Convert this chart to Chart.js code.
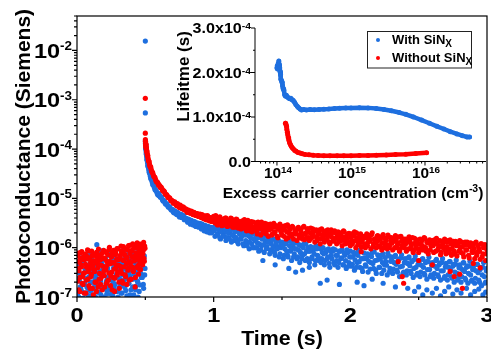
<!DOCTYPE html>
<html><head><meta charset="utf-8">
<script src="https://cdn.jsdelivr.net/npm/chart.js@4.4.1/dist/chart.umd.min.js"></script>
<style>
html,body{margin:0;padding:0;background:#fff;}
#wrap{position:relative;width:491px;height:352px;}
canvas{position:absolute;left:0;top:0;}
</style></head><body>
<div id="wrap"><canvas id="main" width="491" height="352"></canvas><canvas id="inset" width="491" height="352"></canvas></div>
<script>
const BLUE = '#1e6fdf', RED = '#ff0000';
const FONT = '"Liberation Sans", Arial, Helvetica, sans-serif';

// ---------- main chart: photoconductance vs time ----------
const NOISE_T0 = 0, NOISE_T0B = 0.0025, NOISE_DT = 0.005;   // pre-pulse baseline sampling
const noiseRed = [5.2e-7,2.1e-7,7.8e-7,3.4e-7,1.3e-7,6.1e-7,4.5e-7,8.3e-7,2.6e-7,1.8e-7,
5.7e-7,3.1e-7,7.2e-7,1.2e-7,4.0e-7,6.6e-7,2.3e-7,8.6e-7,3.7e-7,1.5e-7,
5.0e-7,2.9e-7,6.9e-7,4.3e-7,1.1e-7,7.5e-7,3.3e-7,5.5e-7,2.0e-7,8.1e-7,
4.8e-7,1.6e-7,6.3e-7,3.0e-7,7.0e-7,2.4e-7,5.9e-7,1.4e-7,4.2e-7,8.8e-7,
2.7e-7,6.0e-7,3.6e-7,1.9e-7,7.6e-7,4.6e-7,2.2e-7,9.2e-7,5.3e-7,1.7e-7,
6.7e-7,3.2e-7,8.0e-7,2.5e-7,4.9e-7,1.3e-7,7.3e-7,3.9e-7,5.8e-7,2.8e-7,
9.5e-7,4.4e-7,1.5e-7,6.4e-7,3.5e-7,8.4e-7,2.1e-7,5.6e-7,1.05e-6,4.1e-7,
7.1e-7,2.6e-7,6.2e-7,1.8e-7,9.0e-7,3.8e-7,5.1e-7,1.12e-6,4.7e-7,2.3e-7,
8.7e-7,6.5e-7,3.4e-7,1.0e-6,5.4e-7,1.6e-7,7.9e-7,4.0e-7,1.25e-6,6.8e-7,
2.9e-7,9.8e-7,5.0e-7,3.6e-7,1.15e-6,7.4e-7,4.5e-7,8.9e-7,6.1e-7,1.08e-6];
const noiseRed2 = [3.8e-7,6.9e-7,1.4e-7,5.1e-7,2.5e-7,8.0e-7,4.1e-7,1.9e-7,6.4e-7,3.0e-7,
1.2e-7,7.4e-7,4.6e-7,2.2e-7,5.9e-7,9.0e-7,3.3e-7,1.7e-7,6.0e-7,4.3e-7,
2.6e-7,8.5e-7,1.5e-7,5.4e-7,3.6e-7,7.0e-7,2.0e-7,4.9e-7,1.3e-7,6.7e-7,
3.9e-7,9.4e-7,2.3e-7,5.6e-7,1.8e-7,4.4e-7,7.7e-7,2.9e-7,6.2e-7,3.4e-7,
1.6e-7,8.3e-7,4.0e-7,5.3e-7,2.1e-7,7.2e-7,3.1e-7,1.02e-6,4.7e-7,2.7e-7,
6.5e-7,1.4e-7,5.0e-7,8.8e-7,3.7e-7,2.4e-7,7.9e-7,4.5e-7,9.6e-7,3.2e-7,
5.7e-7,2.0e-7,6.9e-7,4.2e-7,1.08e-6,3.0e-7,8.1e-7,1.9e-7,5.5e-7,7.3e-7,
2.8e-7,9.3e-7,4.8e-7,6.3e-7,3.5e-7,1.1e-6,2.2e-7,7.6e-7,5.2e-7,8.6e-7,
4.1e-7,1.2e-6,3.3e-7,6.6e-7,9.9e-7,2.5e-7,7.1e-7,5.8e-7,1.05e-6,4.4e-7,
8.2e-7,3.7e-7,1.18e-6,6.0e-7,9.1e-7,4.9e-7,7.5e-7,1.28e-6,5.3e-7,9.7e-7];
const noiseBlue = [2.4e-7,1.1e-7,4.3e-7,0.9e-7,3.0e-7,1.6e-7,6.2e-7,1.3e-7,2.7e-7,0.95e-7,
5.1e-7,1.9e-7,3.6e-7,1.2e-7,2.2e-7,7.0e-7,1.5e-7,3.3e-7,1.05e-7,4.8e-7,
2.0e-7,1.4e-7,5.6e-7,2.9e-7,1.0e-7,3.9e-7,1.7e-7,2.5e-7,4.5e-7,1.15e-6,
1.25e-7,3.1e-7,6.8e-7,1.8e-7,2.3e-7,1.1e-7,5.3e-7,3.5e-7,1.45e-7,2.8e-7,
4.1e-7,0.92e-7,6.0e-7,2.1e-7,1.35e-7,3.8e-7,7.5e-7,1.6e-7,2.6e-7,4.9e-7,
1.15e-7,3.2e-7,5.8e-7,2.0e-7,1.5e-7,4.4e-7,8.2e-7,1.3e-7,2.9e-7,3.7e-7,
1.0e-7,5.0e-7,2.4e-7,6.5e-7,1.7e-7,3.4e-7,1.2e-7,4.6e-7,9.0e-7,2.2e-7,
1.55e-7,5.5e-7,3.0e-7,1.05e-7,4.0e-7,7.2e-7,1.9e-7,2.7e-7,6.1e-7,1.4e-7,
3.6e-7,8.5e-7,2.3e-7,1.1e-7,5.2e-7,4.2e-7,1.65e-7,7.8e-7,3.1e-7,2.0e-7,
9.4e-7,1.3e-7,4.7e-7,6.6e-7,2.5e-7,3.9e-7,1.02e-6,1.8e-7,5.9e-7,2.8e-7];
const noiseBlue2 = [1.3e-7,3.4e-7,1.0e-7,2.1e-7,4.6e-7,1.5e-7,2.8e-7,0.93e-7,5.5e-7,1.8e-7,
3.1e-7,1.2e-7,2.4e-7,6.4e-7,1.6e-7,3.8e-7,1.05e-7,2.6e-7,4.2e-7,1.35e-7,
7.3e-7,2.0e-7,1.1e-7,3.5e-7,5.0e-7,1.45e-7,2.3e-7,0.98e-7,4.0e-7,2.9e-7,
1.7e-7,6.2e-7,1.25e-7,3.2e-7,2.1e-7,8.6e-7,1.5e-7,4.4e-7,2.7e-7,1.0e-7,
3.6e-7,5.7e-7,1.9e-7,1.15e-7,2.5e-7,4.8e-7,1.4e-7,7.0e-7,3.0e-7,1.6e-7,
2.2e-7,5.2e-7,1.05e-7,3.9e-7,6.6e-7,1.8e-7,2.6e-7,4.3e-7,1.3e-7,9.6e-7,
3.3e-7,1.55e-7,5.4e-7,2.0e-7,1.2e-7,4.1e-7,7.8e-7,2.8e-7,1.7e-7,3.7e-7,
6.0e-7,1.35e-7,2.4e-7,8.9e-7,4.5e-7,1.9e-7,3.2e-7,1.1e-7,5.6e-7,2.3e-7,
7.1e-7,1.6e-7,4.0e-7,2.9e-7,1.06e-6,1.4e-7,3.5e-7,6.3e-7,2.1e-7,1.0e-7,
4.9e-7,8.0e-7,1.75e-7,3.0e-7,5.3e-7,2.5e-7,1.1e-6,1.5e-7,6.8e-7,3.8e-7];

const peakBlueT = [0.5, 0.5], peakBlueV = [1.55e-2, 5.4e-4];
const peakRedT = [0.5, 0.5], peakRedV = [1.07e-3, 2.1e-4];

const earlyT = [0.5005,0.501,0.502,0.503,0.504,0.506,0.508,0.510,0.513,0.516,0.520,0.525,0.530,0.536,0.543,0.550,0.558,0.566,0.575,0.585,0.595];
const earlyRed = [1.55e-4,1.41e-4,1.33e-4,1.26e-4,1.2e-4,1.09e-4,9.9e-5,9.2e-5,8.2e-5,7.4e-5,6.5e-5,5.7e-5,5.0e-5,4.4e-5,3.85e-5,3.4e-5,3.0e-5,2.7e-5,2.4e-5,2.16e-5,1.95e-5];
const earlyBlue = [1.45e-4,1.31e-4,1.2e-4,1.1e-4,1.02e-4,8.9e-5,7.8e-5,7.0e-5,6.0e-5,5.3e-5,4.5e-5,3.85e-5,3.33e-5,2.86e-5,2.45e-5,2.14e-5,1.87e-5,1.66e-5,1.47e-5,1.3e-5,1.17e-5];
const earlyT2 = [0.5015,0.5025,0.5035,0.505,0.507,0.509,0.5115,0.5145,0.518,0.5225,0.5275,0.533,0.5395,0.5465,0.554,0.562,0.5705,0.58,0.59,0.5975];
const earlyRed2 = [1.42e-4,1.26e-4,1.25e-4,1.1e-4,1.06e-4,9.2e-5,8.9e-5,7.6e-5,7.3e-5,5.9e-5,5.6e-5,4.6e-5,4.3e-5,3.55e-5,3.3e-5,2.8e-5,2.65e-5,2.2e-5,2.1e-5,1.85e-5];
const earlyBlue2 = [1.22e-4,1.18e-4,1.03e-4,9.9e-5,8.1e-5,7.6e-5,6.3e-5,5.9e-5,4.7e-5,4.3e-5,3.45e-5,3.2e-5,2.55e-5,2.4e-5,1.92e-5,1.82e-5,1.52e-5,1.43e-5,1.2e-5,1.16e-5];

const LATE_T0 = 0.60, LATE_T0B = 0.605, LATE_DT = 0.01;   // decay tail sampling
const lateRed = [1.88e-5,1.66e-5,1.6e-5,1.42e-5,1.36e-5,1.2e-5,1.14e-5,1.03e-5,1.0e-5,8.9e-6,
8.8e-6,8.0e-6,7.9e-6,7.1e-6,7.4e-6,6.5e-6,6.9e-6,6.2e-6,6.6e-6,5.8e-6,
6.0e-6,5.2e-6,5.6e-6,5.0e-6,5.4e-6,4.7e-6,5.1e-6,4.5e-6,4.9e-6,4.3e-6,
4.8e-6,4.1e-6,4.5e-6,3.9e-6,4.4e-6,3.7e-6,4.2e-6,3.5e-6,4.1e-6,3.6e-6,
4.3e-6,3.2e-6,3.9e-6,2.9e-6,4.1e-6,3.4e-6,2.8e-6,3.8e-6,3.1e-6,4.0e-6,
2.7e-6,3.6e-6,3.0e-6,3.9e-6,2.6e-6,3.3e-6,2.8e-6,3.7e-6,2.5e-6,3.4e-6,
2.4e-6,3.5e-6,2.7e-6,3.1e-6,2.2e-6,3.6e-6,2.6e-6,2.9e-6,2.1e-6,3.3e-6,
2.3e-6,3.2e-6,1.9e-6,2.8e-6,2.5e-6,3.3e-6,2.0e-6,2.7e-6,2.2e-6,3.0e-6,
1.7e-6,2.9e-6,2.4e-6,1.9e-6,3.1e-6,2.1e-6,2.6e-6,1.6e-6,2.8e-6,2.2e-6,
1.8e-6,2.7e-6,2.3e-6,1.5e-6,2.9e-6,2.0e-6,2.4e-6,1.7e-6,2.6e-6,1.9e-6,
2.2e-6,1.4e-6,2.6e-6,1.8e-6,2.1e-6,1.5e-6,2.7e-6,1.9e-6,1.6e-6,2.4e-6,
1.4e-6,2.5e-6,1.8e-6,2.1e-6,1.3e-6,2.3e-6,1.6e-6,2.0e-6,1.2e-6,2.4e-6,
1.7e-6,1.3e-6,2.2e-6,1.5e-6,1.9e-6,1.2e-6,2.3e-6,1.6e-6,1.4e-6,2.0e-6,
1.2e-6,2.1e-6,1.5e-6,1.8e-6,1.1e-6,2.2e-6,1.4e-6,1.7e-6,1.25e-6,1.95e-6,
1.1e-6,1.9e-6,1.35e-6,2.1e-6,1.0e-6,1.6e-6,1.25e-6,1.8e-6,1.05e-6,1.5e-6,
1.7e-6,1.0e-6,1.9e-6,1.3e-6,1.55e-6,9.5e-7,2.0e-6,1.2e-6,1.45e-6,1.0e-6,
1.75e-6,1.1e-6,1.5e-6,9.0e-7,1.85e-6,1.2e-6,1.4e-6,9.5e-7,1.65e-6,1.15e-6,
1.6e-6,9.0e-7,1.35e-6,1.75e-6,1.0e-6,1.25e-6,8.5e-7,1.7e-6,1.1e-6,1.3e-6,
1.5e-6,8.5e-7,1.3e-6,1.65e-6,9.5e-7,1.2e-6,8.0e-7,1.55e-6,1.05e-6,1.4e-6,
8.0e-7,1.5e-6,1.15e-6,9.0e-7,1.6e-6,1.0e-6,1.3e-6,7.5e-7,1.45e-6,1.1e-6,
1.4e-6,8.0e-7,1.2e-6,1.55e-6,9.0e-7,1.1e-6,7.2e-7,1.35e-6,1.0e-6,1.5e-6,
7.5e-7,1.3e-6,9.5e-7,1.45e-6,7.0e-7,1.15e-6,8.5e-7,1.35e-6,6.8e-7,1.2e-6,
1.4e-6,8.0e-7,1.05e-6,6.5e-7,1.3e-6,9.0e-7,1.15e-6,6.2e-7,1.25e-6,8.5e-7,
1.1e-6,6.0e-7,1.3e-6,8.0e-7,9.5e-7,5.8e-7,1.2e-6,7.5e-7,1.05e-6,5.5e-7,9.0e-7];
const lateRed2 = [1.8e-5,1.7e-5,1.48e-5,1.43e-5,1.24e-5,1.2e-5,1.06e-5,1.04e-5,9.3e-6,9.0e-6,
8.1e-6,8.5e-6,7.4e-6,7.8e-6,6.8e-6,7.3e-6,6.3e-6,6.7e-6,5.9e-6,6.1e-6,
5.3e-6,5.8e-6,5.1e-6,5.5e-6,4.8e-6,5.2e-6,4.6e-6,4.9e-6,4.4e-6,4.7e-6,
4.2e-6,4.7e-6,3.9e-6,4.3e-6,3.7e-6,4.5e-6,3.6e-6,4.0e-6,3.4e-6,3.9e-6,
3.6e-6,4.5e-6,3.0e-6,3.5e-6,4.2e-6,3.1e-6,3.7e-6,2.9e-6,4.0e-6,3.3e-6,
3.5e-6,2.8e-6,4.0e-6,3.1e-6,3.4e-6,2.6e-6,3.8e-6,3.0e-6,2.7e-6,3.2e-6,
3.0e-6,2.5e-6,3.7e-6,2.8e-6,2.4e-6,3.2e-6,2.2e-6,3.4e-6,2.6e-6,2.3e-6,
2.7e-6,2.1e-6,3.3e-6,2.4e-6,1.8e-6,2.9e-6,2.3e-6,3.1e-6,1.9e-6,2.6e-6,
2.3e-6,3.0e-6,1.8e-6,2.6e-6,2.0e-6,2.8e-6,1.7e-6,2.4e-6,3.0e-6,2.0e-6,
2.5e-6,1.7e-6,2.8e-6,2.1e-6,1.6e-6,2.5e-6,1.9e-6,2.7e-6,1.5e-6,2.2e-6,
1.9e-6,2.5e-6,1.6e-6,2.3e-6,1.7e-6,2.6e-6,1.45e-6,2.0e-6,2.4e-6,1.6e-6,
2.0e-6,1.55e-6,2.4e-6,1.7e-6,2.2e-6,1.4e-6,1.9e-6,2.3e-6,1.5e-6,1.8e-6,
2.1e-6,1.45e-6,1.8e-6,2.3e-6,1.3e-6,1.7e-6,2.0e-6,1.35e-6,2.2e-6,1.55e-6,
1.8e-6,1.3e-6,2.0e-6,1.4e-6,1.65e-6,2.1e-6,1.2e-6,1.55e-6,1.9e-6,1.3e-6,
1.6e-6,1.2e-6,1.75e-6,1.4e-6,2.0e-6,1.15e-6,1.5e-6,1.9e-6,1.3e-6,1.65e-6,
1.2e-6,1.6e-6,1.1e-6,1.75e-6,1.35e-6,1.85e-6,1.05e-6,1.5e-6,1.25e-6,1.7e-6,
1.4e-6,1.05e-6,1.65e-6,1.25e-6,1.0e-6,1.55e-6,1.15e-6,1.8e-6,1.0e-6,1.4e-6,
1.25e-6,1.55e-6,1.0e-6,1.45e-6,1.15e-6,1.65e-6,9.5e-7,1.35e-6,1.5e-6,1.0e-6,
1.2e-6,1.5e-6,9.5e-7,1.35e-6,1.1e-6,1.6e-6,9.0e-7,1.25e-6,1.45e-6,9.5e-7,
1.2e-6,9.5e-7,1.4e-6,1.05e-6,1.55e-6,8.5e-7,1.25e-6,1.35e-6,9.0e-7,1.2e-6,
1.1e-6,1.45e-6,8.5e-7,1.25e-6,1.0e-6,1.4e-6,8.0e-7,1.15e-6,1.3e-6,9.0e-7,
1.05e-6,1.4e-6,8.0e-7,1.2e-6,9.5e-7,1.35e-6,7.5e-7,1.1e-6,1.25e-6,8.5e-7,
1.0e-6,1.3e-6,7.5e-7,1.15e-6,9.0e-7,1.3e-6,7.0e-7,1.05e-6,1.2e-6,8.0e-7,
9.5e-7,1.25e-6,7.0e-7,1.1e-6,8.5e-7,1.2e-6,6.5e-7,1.0e-6,1.15e-6,7.5e-7];
const lateBlue = [1.25e-5,1.06e-5,1.03e-5,8.9e-6,8.8e-6,7.6e-6,7.5e-6,6.6e-6,6.6e-6,5.8e-6,
5.9e-6,5.1e-6,5.4e-6,4.7e-6,5.0e-6,4.2e-6,4.8e-6,4.1e-6,4.5e-6,3.8e-6,
3.9e-6,3.3e-6,3.7e-6,3.0e-6,3.5e-6,2.9e-6,3.4e-6,2.7e-6,3.2e-6,2.6e-6,
3.1e-6,2.4e-6,2.9e-6,2.2e-6,2.8e-6,2.1e-6,2.7e-6,2.0e-6,2.6e-6,2.3e-6,
2.6e-6,1.7e-6,2.9e-6,1.9e-6,2.3e-6,1.5e-6,2.5e-6,1.8e-6,2.1e-6,1.4e-6,
2.4e-6,1.6e-6,2.0e-6,1.3e-6,2.5e-6,1.7e-6,1.4e-6,2.2e-6,1.2e-6,1.9e-6,
1.5e-6,2.2e-6,1.1e-6,1.8e-6,1.3e-6,2.1e-6,9.5e-7,1.6e-6,1.2e-6,1.9e-6,
1.0e-6,1.7e-6,1.25e-6,8.5e-7,1.9e-6,1.1e-6,1.5e-6,8.0e-7,1.35e-6,1.05e-6,
1.6e-6,7.5e-7,1.2e-6,9.0e-7,1.5e-6,7.0e-7,1.1e-6,1.35e-6,6.5e-7,1.0e-6,
1.3e-6,6.0e-7,9.5e-7,1.2e-6,7.0e-7,1.4e-6,8.5e-7,5.5e-7,1.1e-6,7.5e-7,
1.25e-6,6.0e-7,9.0e-7,5.0e-7,1.1e-6,7.0e-7,1.2e-6,5.5e-7,8.5e-7,1.0e-6,
5.0e-7,1.05e-6,6.5e-7,9.0e-7,4.5e-7,1.1e-6,7.0e-7,5.5e-7,9.5e-7,6.0e-7,
1.0e-6,4.5e-7,8.0e-7,6.0e-7,9.5e-7,4.0e-7,7.0e-7,8.5e-7,5.0e-7,9.0e-7,
5.5e-7,4.0e-7,8.5e-7,6.0e-7,9.0e-7,4.5e-7,7.0e-7,3.8e-7,8.0e-7,5.0e-7,
8.5e-7,4.2e-7,6.5e-7,3.5e-7,7.5e-7,5.0e-7,8.8e-7,4.0e-7,6.0e-7,3.3e-7,
7.8e-7,4.5e-7,6.0e-7,3.2e-7,7.0e-7,5.0e-7,8.0e-7,3.8e-7,5.5e-7,3.0e-7,
7.2e-7,4.0e-7,6.0e-7,3.0e-7,7.5e-7,4.5e-7,5.2e-7,2.8e-7,6.8e-7,3.8e-7,
6.5e-7,3.0e-7,5.0e-7,7.0e-7,3.5e-7,5.5e-7,2.6e-7,6.2e-7,4.2e-7,3.2e-7,
6.0e-7,2.8e-7,4.8e-7,6.5e-7,3.3e-7,5.2e-7,2.5e-7,5.8e-7,4.0e-7,3.0e-7,
5.5e-7,2.6e-7,4.4e-7,6.0e-7,3.0e-7,5.0e-7,2.3e-7,5.2e-7,3.6e-7,2.8e-7,
5.0e-7,2.4e-7,4.2e-7,5.8e-7,2.8e-7,4.5e-7,2.2e-7,5.0e-7,3.4e-7,2.6e-7,
4.8e-7,2.2e-7,4.0e-7,5.2e-7,2.6e-7,4.2e-7,2.0e-7,4.6e-7,3.0e-7,2.4e-7,
4.5e-7,2.0e-7,3.6e-7,5.0e-7,2.4e-7,4.0e-7,1.9e-7,4.2e-7,2.8e-7,2.2e-7,
4.2e-7,1.9e-7,3.4e-7,4.6e-7,2.2e-7,3.6e-7,1.7e-7,4.0e-7,2.6e-7,2.0e-7,3.8e-7];
const lateBlue2 = [1.12e-5,1.08e-5,9.4e-6,9.0e-6,8.0e-6,7.8e-6,6.9e-6,6.8e-6,6.1e-6,5.9e-6,
5.3e-6,5.6e-6,4.9e-6,5.2e-6,4.5e-6,4.7e-6,4.1e-6,4.4e-6,3.7e-6,4.0e-6,
3.5e-6,3.8e-6,3.2e-6,3.6e-6,3.1e-6,3.3e-6,2.8e-6,3.1e-6,2.7e-6,2.9e-6,
2.7e-6,3.0e-6,2.5e-6,2.8e-6,2.3e-6,2.6e-6,2.2e-6,2.5e-6,2.0e-6,2.4e-6,
2.2e-6,2.7e-6,1.8e-6,2.4e-6,1.6e-6,2.1e-6,2.6e-6,1.7e-6,2.2e-6,1.6e-6,
2.0e-6,1.5e-6,2.3e-6,1.8e-6,1.4e-6,2.1e-6,1.6e-6,1.3e-6,2.0e-6,1.5e-6,
1.7e-6,1.2e-6,2.0e-6,1.4e-6,1.1e-6,1.75e-6,1.3e-6,2.0e-6,1.0e-6,1.5e-6,
1.4e-6,1.0e-6,1.6e-6,1.2e-6,9.0e-7,1.5e-6,1.15e-6,1.7e-6,9.5e-7,1.3e-6,
1.3e-6,9.0e-7,1.45e-6,1.05e-6,8.0e-7,1.25e-6,9.5e-7,1.4e-6,7.5e-7,1.15e-6,
1.05e-6,7.0e-7,1.25e-6,8.5e-7,6.5e-7,1.1e-6,9.0e-7,1.3e-6,6.5e-7,9.5e-7,
9.5e-7,6.5e-7,1.15e-6,8.0e-7,6.0e-7,1.0e-6,7.5e-7,1.2e-6,6.0e-7,8.5e-7,
8.5e-7,6.0e-7,1.0e-6,7.5e-7,5.5e-7,9.5e-7,6.5e-7,1.05e-6,5.0e-7,8.0e-7,
7.5e-7,5.5e-7,9.0e-7,6.5e-7,4.8e-7,8.5e-7,6.0e-7,9.5e-7,4.5e-7,7.0e-7,
7.0e-7,5.0e-7,8.5e-7,6.2e-7,4.5e-7,7.8e-7,5.5e-7,9.0e-7,4.2e-7,6.5e-7,
6.5e-7,4.6e-7,8.0e-7,5.6e-7,4.0e-7,7.0e-7,5.2e-7,8.5e-7,3.8e-7,6.0e-7,
6.2e-7,4.2e-7,7.5e-7,5.3e-7,3.7e-7,6.6e-7,4.8e-7,8.2e-7,3.5e-7,5.6e-7,
5.8e-7,4.0e-7,7.0e-7,5.0e-7,3.5e-7,6.3e-7,4.4e-7,7.8e-7,3.2e-7,5.3e-7,
5.4e-7,3.7e-7,6.6e-7,4.6e-7,3.2e-7,5.9e-7,4.1e-7,7.2e-7,3.0e-7,5.0e-7,
5.0e-7,3.4e-7,6.2e-7,4.3e-7,3.0e-7,5.5e-7,3.8e-7,6.8e-7,2.8e-7,4.6e-7,
4.7e-7,3.2e-7,5.8e-7,4.0e-7,2.8e-7,5.2e-7,3.6e-7,6.4e-7,2.6e-7,4.4e-7,
4.4e-7,3.0e-7,5.5e-7,3.8e-7,2.6e-7,4.9e-7,3.4e-7,6.0e-7,2.4e-7,4.1e-7,
4.1e-7,2.8e-7,5.2e-7,3.5e-7,2.4e-7,4.6e-7,3.2e-7,5.6e-7,2.2e-7,3.9e-7,
3.9e-7,2.6e-7,4.9e-7,3.3e-7,2.2e-7,4.3e-7,3.0e-7,5.3e-7,2.1e-7,3.6e-7,
3.6e-7,2.4e-7,4.6e-7,3.1e-7,2.0e-7,4.0e-7,2.8e-7,5.0e-7,1.9e-7,3.4e-7];

const redOutT = [2.08,2.35,2.38,2.39,2.5,2.6,2.73,2.76,2.8,2.82,2.9,2.95];
const redOutV = [8.3e-7,5.2e-7,2.6e-7,1.9e-7,5.5e-7,4.5e-7,3.3e-7,2.6e-7,2.9e-7,1.5e-7,4.8e-7,3.9e-7];
const blueOutT = [1.36,1.45,1.55,1.6,1.65,1.7,1.78,1.83,1.92,2.05,2.1,2.16,2.24,2.33,2.42,2.47,2.5,2.53,2.56,2.6,2.63,2.66,2.69,2.72,2.75,2.78,2.81,2.85,2.88,2.91,2.94,2.97,2.99];
const blueOutV = [5.5e-7,4.5e-7,3.8e-7,3.2e-7,3.5e-7,4.0e-7,1.9e-7,2.2e-7,1.8e-7,2.0e-7,1.7e-7,2.3e-7,1.9e-7,1.6e-7,1.5e-7,1.3e-7,1.6e-7,1.1e-7,1.4e-7,1.2e-7,1.5e-7,1.05e-7,1.3e-7,1.6e-7,1.15e-7,1.4e-7,1.2e-7,1.5e-7,1.1e-7,1.3e-7,1.45e-7,1.1e-7,1.25e-7];

const xTickValues = [0, 1, 2, 3];
const xTickLabels = ['0', '1', '2', '3'];
const xMinorValues = [0.5, 1.5, 2.5];
const yTickExps = [-7, -6, -5, -4, -3, -2];
const yTickSup = ['-7', '-6', '-5', '-4', '-3', '-2'];
const mainXTitle = 'Time (s)';
const mainYTitle = 'Photoconductance (Siemens)';

// ---------- inset: lifetime vs excess carrier concentration ----------
const insetBlueX = [1.00e14,1.01e14,1.02e14,1.04e14,1.06e14,1.07e14,1.09e14,1.10e14,1.12e14,1.13e14,1.15e14,1.17e14,1.19e14,1.21e14,1.24e14,1.27e14,1.30e14,1.34e14,1.38e14,1.43e14,1.48e14,1.54e14,1.60e14,1.66e14,1.73e14,1.80e14,1.88e14,1.96e14,2.05e14,2.15e14,2.3e14,2.5e14,2.8e14,3.2e14,3.7e14,4.3e14,5e14,6e14,7e14,8.5e14,1e15,1.3e15,1.7e15,2.2e15,2.8e15,3.5e15,4.5e15,5.5e15,7e15,9e15,1.15e16,1.45e16,1.8e16,2.2e16,2.7e16,3.2e16,3.7e16,4.0e16];
const insetBlueY = [2.10e-4,2.15e-4,2.08e-4,2.2e-4,2.26e-4,2.18e-4,2.1e-4,2.02e-4,1.95e-4,1.85e-4,1.82e-4,1.78e-4,1.7e-4,1.64e-4,1.6e-4,1.5e-4,1.47e-4,1.49e-4,1.45e-4,1.43e-4,1.41e-4,1.42e-4,1.39e-4,1.37e-4,1.33e-4,1.28e-4,1.24e-4,1.21e-4,1.18e-4,1.16e-4,1.17e-4,1.16e-4,1.17e-4,1.165e-4,1.17e-4,1.175e-4,1.18e-4,1.19e-4,1.195e-4,1.2e-4,1.205e-4,1.21e-4,1.205e-4,1.19e-4,1.17e-4,1.14e-4,1.1e-4,1.06e-4,1.0e-4,0.93e-4,0.86e-4,0.79e-4,0.73e-4,0.67e-4,0.62e-4,0.58e-4,0.55e-4,0.55e-4];
const insetRedX = [1.30e14,1.32e14,1.34e14,1.36e14,1.38e14,1.40e14,1.42e14,1.45e14,1.48e14,1.52e14,1.56e14,1.61e14,1.67e14,1.74e14,1.82e14,1.92e14,2.05e14,2.2e14,2.4e14,2.7e14,3.1e14,3.6e14,4.3e14,5.2e14,6.5e14,8e14,1e15,1.3e15,1.7e15,2.2e15,3e15,4e15,5.5e15,7.5e15,1.05e16];
const insetRedY = [0.86e-4,0.84e-4,0.8e-4,0.72e-4,0.66e-4,0.6e-4,0.54e-4,0.48e-4,0.42e-4,0.38e-4,0.34e-4,0.31e-4,0.28e-4,0.25e-4,0.23e-4,0.205e-4,0.19e-4,0.175e-4,0.16e-4,0.15e-4,0.14e-4,0.135e-4,0.13e-4,0.128e-4,0.128e-4,0.13e-4,0.13e-4,0.133e-4,0.137e-4,0.14e-4,0.147e-4,0.155e-4,0.165e-4,0.18e-4,0.195e-4];
const insetYTickValues = [0, 1e-4, 2e-4, 3e-4];
const insetYTickLabels = [['0.0', ''], ['1.0x10', '-4'], ['2.0x10', '-4'], ['3.0x10', '-4']];
const insetYMinorValues = [0.5e-4, 1.5e-4, 2.5e-4];
const insetXTickValues = [1e14, 1e15, 1e16];
const insetXTickSup = ['14', '15', '16'];
const insetXTitle = ['Excess carrier concentration (cm', '-3', ')'];
const insetYTitle = 'Lifeitme (s)';
const legendLabels = ['With SiN', 'Without SiN'];
const legendSub = 'X';

// ---------- helpers ----------
function pts(ts, vs) { return vs.map((v, i) => ({ x: ts[i], y: v })); }
function sampled(t0, dt, vs) { return vs.map((v, i) => ({ x: +(t0 + i * dt).toFixed(4), y: v })); }
function measure(ctx, s, size, sx) { ctx.save(); ctx.font = 'bold ' + size + 'px ' + FONT; const w = ctx.measureText(s).width * sx; ctx.restore(); return w; }
function txt(ctx, s, x, y, size, align, sx) {
  const w = measure(ctx, s, size, sx);
  const x0 = align === 'right' ? x - w : align === 'center' ? x - w / 2 : x;
  ctx.save(); ctx.font = 'bold ' + size + 'px ' + FONT; ctx.textAlign = 'left'; ctx.textBaseline = 'alphabetic';
  ctx.translate(x0, y); ctx.scale(sx, 1); ctx.fillText(s, 0, 0); ctx.restore();
  return w;
}
function runs(ctx, parts, x, y, align, sx) {
  const ws = parts.map(p => measure(ctx, p.s, p.size, sx));
  let tot = 0; ws.forEach(w => tot += w);
  let cx = align === 'right' ? x - tot : align === 'center' ? x - tot / 2 : x;
  parts.forEach((p, i) => { txt(ctx, p.s, cx, y + p.dy, p.size, 'left', sx); cx += ws[i]; });
}
function vtext(ctx, s, bx, cy, size) {
  ctx.save(); ctx.font = 'bold ' + size + 'px ' + FONT; ctx.textAlign = 'center'; ctx.textBaseline = 'alphabetic';
  ctx.translate(bx, cy); ctx.rotate(-Math.PI / 2); ctx.fillText(s, 0, 0); ctx.restore();
}

const mainAxes = {
  id: 'mainAxes',
  beforeDraw(chart) { const c = chart.ctx; c.save(); c.fillStyle = '#fff'; c.fillRect(0, 0, chart.width, chart.height); c.restore(); },
  afterDraw(chart) {
    const ctx = chart.ctx, a = chart.chartArea, x = chart.scales.x, y = chart.scales.y;
    ctx.save();
    ctx.strokeStyle = '#000'; ctx.lineWidth = 1.2;
    ctx.strokeRect(a.left, a.top, a.right - a.left, a.bottom - a.top);
    ctx.beginPath();
    xTickValues.forEach(v => { const p = x.getPixelForValue(v); ctx.moveTo(p, a.bottom); ctx.lineTo(p, a.bottom + 5); });
    xMinorValues.forEach(v => { const p = x.getPixelForValue(v); ctx.moveTo(p, a.bottom); ctx.lineTo(p, a.bottom + 3); });
    yTickExps.forEach(e => {
      const p = y.getPixelForValue(Math.pow(10, e)); ctx.moveTo(a.left, p); ctx.lineTo(a.left - 5, p);
      for (let m = 2; m <= 9; m++) { const v = m * Math.pow(10, e); if (v <= y.max) { const q = y.getPixelForValue(v); ctx.moveTo(a.left, q); ctx.lineTo(a.left - 3, q); } }
    });
    ctx.stroke();
    ctx.fillStyle = '#000';
    xTickValues.forEach((v, i) => txt(ctx, xTickLabels[i], x.getPixelForValue(v), 322, 21, 'center', 1.12));
    yTickExps.forEach((e, i) => {
      const p = y.getPixelForValue(Math.pow(10, e));
      runs(ctx, [{ s: '10', size: 21, dy: 7.5 }, { s: yTickSup[i], size: 12, dy: 0 }], 72, p, 'right', 1.12);
    });
    txt(ctx, mainXTitle, (a.left + a.right) / 2, 345, 20, 'center', 1.07);
    vtext(ctx, mainYTitle, 30, (a.top + a.bottom) / 2, 21);
    ctx.restore();
  }
};

const insetAxes = {
  id: 'insetAxes',
  afterDraw(chart) {
    const ctx = chart.ctx, a = chart.chartArea, x = chart.scales.x, y = chart.scales.y;
    ctx.save();
    ctx.strokeStyle = '#000'; ctx.lineWidth = 1;
    ctx.beginPath();
    ctx.moveTo(a.left, a.top); ctx.lineTo(a.left, a.bottom); ctx.lineTo(a.right, a.bottom);
    insetYTickValues.forEach(v => { const p = y.getPixelForValue(v); ctx.moveTo(a.left, p); ctx.lineTo(a.left - 4, p); });
    insetYMinorValues.forEach(v => { const p = y.getPixelForValue(v); ctx.moveTo(a.left, p); ctx.lineTo(a.left - 2, p); });
    for (let e = 13; e <= 16; e++) for (let m = 1; m <= 9; m++) {
      const v = m * Math.pow(10, e);
      if (v >= x.min && v <= x.max) { const p = x.getPixelForValue(v); ctx.moveTo(p, a.bottom); ctx.lineTo(p, a.bottom + (m === 1 ? 4 : 2)); }
    }
    ctx.stroke();
    ctx.fillStyle = '#000';
    insetYTickValues.forEach((v, i) => {
      const p = y.getPixelForValue(v);
      runs(ctx, [{ s: insetYTickLabels[i][0], size: 14, dy: 5 }, { s: insetYTickLabels[i][1], size: 9, dy: 1 }], 251, p, 'right', 1.15);
    });
    insetXTickValues.forEach((v, i) => {
      runs(ctx, [{ s: '10', size: 14, dy: 0 }, { s: insetXTickSup[i], size: 9, dy: -5.5 }], x.getPixelForValue(v) + 1, 178, 'center', 1.1);
    });
    runs(ctx, [{ s: insetXTitle[0], size: 15, dy: 0 }, { s: insetXTitle[1], size: 10, dy: -6 }, { s: insetXTitle[2], size: 15, dy: 0 }], 353, 198, 'center', 1.04);
    vtext(ctx, insetYTitle, 189, 76.5, 17);
    // legend
    ctx.lineWidth = 1; ctx.strokeStyle = '#222';
    ctx.strokeRect(367.5, 31.5, 104, 36.5);
    const ds = chart.data.datasets;
    [40, 58].forEach((cy, i) => {
      ctx.fillStyle = ds[i].backgroundColor;
      ctx.beginPath(); ctx.arc(378, cy, 2, 0, Math.PI * 2); ctx.fill();
      ctx.fillStyle = '#000';
      runs(ctx, [{ s: legendLabels[i], size: 13, dy: 0 }, { s: legendSub, size: 10, dy: 3.5 }], 392, cy + 3.8, 'left', 1.0);
    });
    ctx.restore();
  }
};

const bluePts = [].concat(sampled(NOISE_T0, NOISE_DT, noiseBlue), sampled(NOISE_T0B, NOISE_DT, noiseBlue2), pts(peakBlueT, peakBlueV), pts(earlyT, earlyBlue), pts(earlyT2, earlyBlue2), sampled(LATE_T0, LATE_DT, lateBlue), sampled(LATE_T0B, LATE_DT, lateBlue2), pts(blueOutT, blueOutV));
const redPts = [].concat(sampled(NOISE_T0, NOISE_DT, noiseRed), sampled(NOISE_T0B, NOISE_DT, noiseRed2), pts(peakRedT, peakRedV), pts(earlyT, earlyRed), pts(earlyT2, earlyRed2), sampled(LATE_T0, LATE_DT, lateRed), sampled(LATE_T0B, LATE_DT, lateRed2), pts(redOutT, redOutV));

new Chart(document.getElementById('main'), {
  type: 'scatter',
  data: { datasets: [
    { label: 'With SiNx', data: bluePts, backgroundColor: BLUE, borderColor: BLUE, pointRadius: 2.6, pointBorderWidth: 0, pointHoverRadius: 0, order: 2, clip: 0 },
    { label: 'Without SiNx', data: redPts, backgroundColor: RED, borderColor: RED, pointRadius: 2.6, pointBorderWidth: 0, pointHoverRadius: 0, order: 1, clip: 0 }
  ] },
  options: {
    responsive: false, animation: false, devicePixelRatio: 1, events: [],
    layout: { padding: { left: 77, top: 16, right: 4, bottom: 55 } },
    plugins: { legend: { display: false }, tooltip: { enabled: false } },
    scales: {
      x: { type: 'linear', min: 0, max: 3, display: false },
      y: { type: 'logarithmic', min: 1e-7, max: 5e-2, display: false }
    }
  },
  plugins: [mainAxes]
});

new Chart(document.getElementById('inset'), {
  type: 'scatter',
  data: { datasets: [
    { label: 'With SiNx', data: pts(insetBlueX, insetBlueY), backgroundColor: BLUE, borderColor: BLUE, showLine: true, borderWidth: 4.5, borderJoinStyle: 'round', borderCapStyle: 'round', pointRadius: 2.5, pointBorderWidth: 0, pointHoverRadius: 0 },
    { label: 'Without SiNx', data: pts(insetRedX, insetRedY), backgroundColor: RED, borderColor: RED, showLine: true, borderWidth: 4.5, borderJoinStyle: 'round', borderCapStyle: 'round', pointRadius: 2.5, pointBorderWidth: 0, pointHoverRadius: 0 }
  ] },
  options: {
    responsive: false, animation: false, devicePixelRatio: 1, events: [],
    layout: { padding: { left: 255, top: 28, right: 5, bottom: 190.5 } },
    plugins: { legend: { display: false }, tooltip: { enabled: false } },
    scales: {
      x: { type: 'logarithmic', min: 5.05e13, max: 6.67e16, display: false },
      y: { type: 'linear', min: 0, max: 3e-4, display: false }
    }
  },
  plugins: [insetAxes]
});
</script>
</body></html>
